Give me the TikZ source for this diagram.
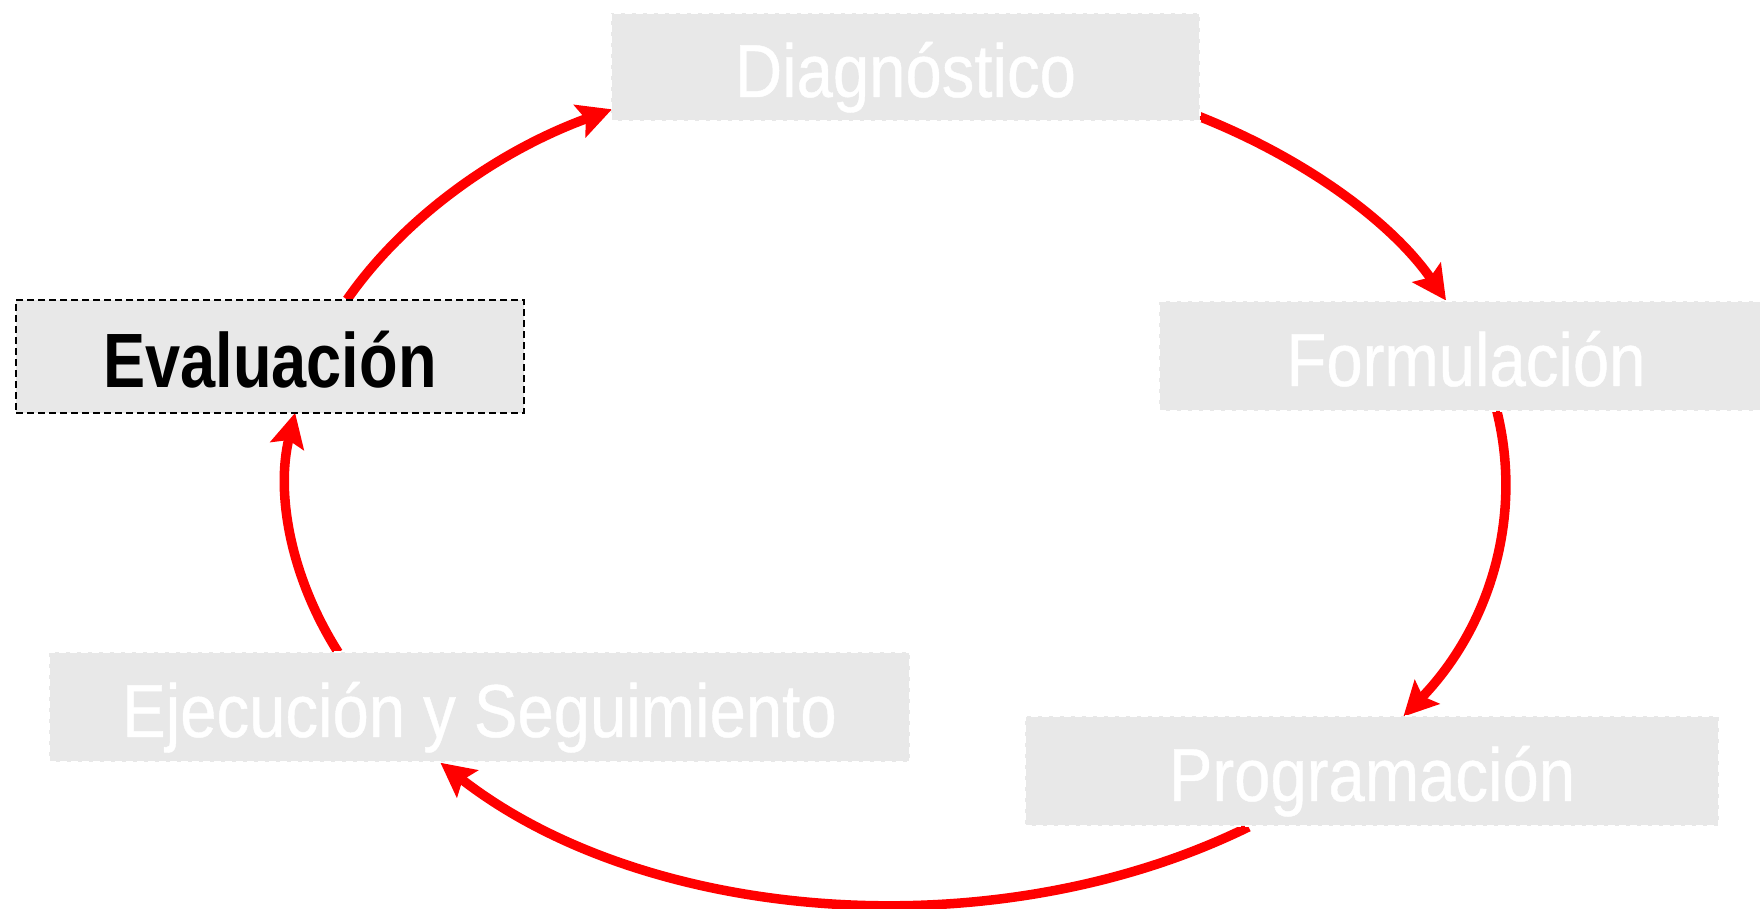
\documentclass[tikz,border=0pt]{standalone}
\usepackage{fontspec}
\setmainfont{Liberation Sans}
\newfontfamily\lblfont{Liberation Sans}[FakeStretch=0.87,FakeBold=0.6]
\newfontfamily\evfont{Liberation Sans}[FakeStretch=0.82]
\usetikzlibrary{arrows.meta,backgrounds}
\definecolor{boxgray}{RGB}{232,232,232}
\definecolor{arrred}{RGB}{255,0,0}
\tikzset{
  stage/.style={rectangle, fill=boxgray, draw=white, line width=1.5pt,
    dash pattern=on 7pt off 4pt, inner sep=0pt, text height=60pt, text depth=0pt,
    font=\lblfont\fontsize{75pt}{80pt}\selectfont, text=white},
  current/.style={stage, draw=black, text=black, text height=62pt,
    font=\evfont\bfseries\fontsize{77pt}{82pt}\selectfont},
  cyc/.style={draw=arrred, line width=9.5pt,
    -{Stealth[length=34pt,width=34pt,inset=6pt]}}
}
\begin{document}
\begin{tikzpicture}[x=1pt,y=-1pt]
\useasboundingbox (0,0) rectangle (1760,908);
\node[stage, minimum width=589pt, minimum height=108pt] (diag) at (905.5,67) {Diagnóstico};
\node[current, minimum width=508pt, minimum height=113pt] (eval) at (270,356.5) {Evaluación};
\node[stage, minimum width=614pt, minimum height=110pt] (form) at (1466,356) {Formulación};
\node[stage, minimum width=861pt, minimum height=110pt] (ejec) at (479.5,707) {Ejecución y Seguimiento};
\node[stage, minimum width=694pt, minimum height=110pt] (prog) at (1372,771) {Programación};
\coordinate (O) at (896.2,482.6);
\begin{scope}[on background layer]
\draw[cyc] (O) ++(-60.2:609.5 and 422) arc[start angle=-60.2, end angle=-25.56, x radius=609.5, y radius=422];
\draw[cyc] (O) ++(-9.8:609.5 and 422) arc[start angle=-9.8, end angle=33.68, x radius=609.5, y radius=422];
\draw[cyc] (O) ++(54.68:609.5 and 422) arc[start angle=54.68, end angle=138.4, x radius=609.5, y radius=422];
\draw[cyc] (O) ++(156.27:609.5 and 422) arc[start angle=156.27, end angle=189.52, x radius=609.5, y radius=422];
\draw[cyc] (O) ++(205.71:609.5 and 422) arc[start angle=205.71, end angle=242.2, x radius=609.5, y radius=422];
\end{scope}
\end{tikzpicture}
\end{document}
